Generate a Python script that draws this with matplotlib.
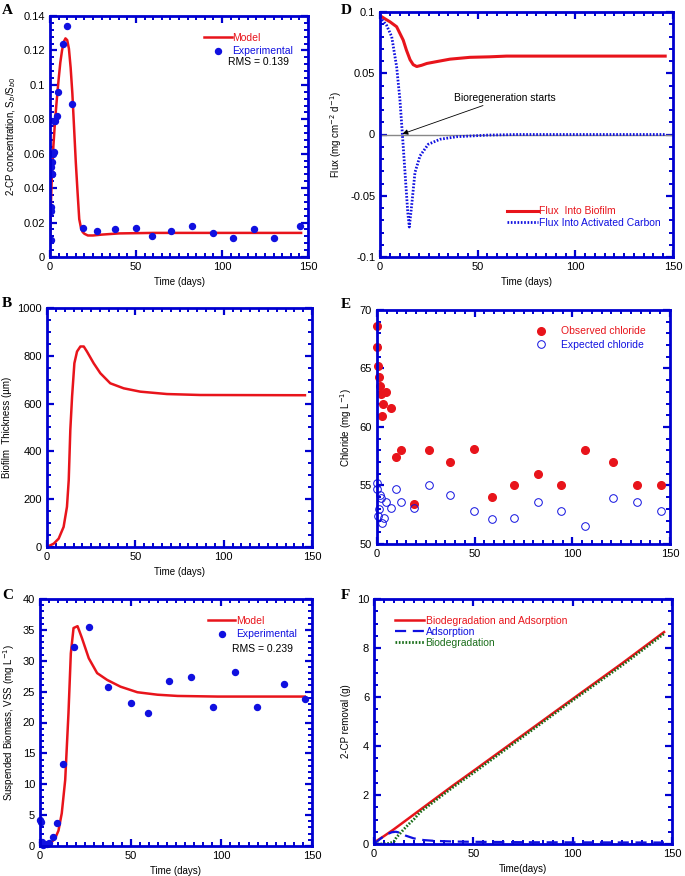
import matplotlib
matplotlib.use('Agg')
import matplotlib.pyplot as plt
import numpy as np
from matplotlib.ticker import MultipleLocator, FuncFormatter

plt.rcParams['font.family'] = ['Liberation Sans', 'DejaVu Sans']

BLUE = '#0000d0'
RED = '#e8141b'
PBLUE = '#1010e0'
GREEN = '#1a6e1a'

# ---- panel A : 2-CP concentration
a_model_t = [0, 0.5, 1, 2, 3, 4, 5, 6, 7, 8, 9, 10, 11, 12, 13, 14, 15, 16, 17, 18, 19, 20, 22, 25, 30, 40, 60, 100, 146]
a_model_y = [0.008, 0.03, 0.045, 0.065, 0.08, 0.092, 0.103, 0.113, 0.12, 0.125, 0.127, 0.126, 0.121, 0.11, 0.095, 0.075,
             0.055, 0.038, 0.022, 0.017, 0.0145, 0.0135, 0.0125, 0.0125, 0.013, 0.0137, 0.014, 0.014, 0.014]
a_exp_t = [0.3, 0.5, 0.6, 0.8, 1.0, 1.2, 1.4, 1.8, 2.2, 2.6, 2.9, 3.9, 4.8, 7.4, 9.9, 13, 19, 27.3, 37.5, 50.1, 59.2,
           70.6, 82.8, 94.8, 106.6, 118.6, 130.3, 145.3]
a_exp_y = [0.01, 0.027, 0.029, 0.052, 0.055, 0.048, 0.048, 0.06, 0.061, 0.079, 0.079, 0.082, 0.096, 0.124, 0.134, 0.089,
           0.017, 0.015, 0.016, 0.017, 0.012, 0.015, 0.018, 0.014, 0.011, 0.016, 0.011, 0.018]

# ---- panel B : biofilm thickness
b_t = [0, 1, 3.8, 6.6, 9.4, 11.3, 12.3, 13.2, 14.2, 15.5, 17, 18.9, 20.8, 22.6, 26.4, 30.2, 35.8, 43.4, 52.8, 67.9, 86.8, 146]
b_y = [0, 4, 14, 35, 84, 168, 280, 490, 630, 769, 818, 839, 839, 818, 769, 727, 685, 664, 650, 640, 636, 635]

# ---- panel C : suspended biomass
c_model_t = [0, 3.7, 5.6, 8.3, 10.2, 12, 13.9, 15.7, 17, 18.5, 20.7, 23.1, 26.9, 31.5, 37, 44.4, 53.7, 64.8, 75.9, 98, 146]
c_model_y = [0, 0, 0.4, 1.2, 2.5, 5.3, 10.7, 21.5, 31.2, 35.3, 35.6, 33.7, 30.4, 28, 26.9, 25.8, 24.9, 24.5, 24.3, 24.2, 24.2]
c_exp_t = [0, 0.7, 0.9, 1.8, 3.7, 5, 7, 9.6, 12.5, 18.6, 27.2, 37.3, 50.4, 59.6, 71.3, 83.3, 95.4, 107.4, 119.4, 134.6, 146.3]
c_exp_y = [4.2, 3.9, 0.7, 0.2, 0.4, 0.5, 1.5, 3.8, 13.2, 32.3, 35.4, 25.8, 23.2, 21.6, 26.7, 27.4, 22.5, 28.1, 22.5, 26.3, 23.8]

# ---- panel D : flux
d_bio_t = [0, 3, 5.1, 8.5, 11.9, 13.5, 15.4, 17, 18.8, 21.3, 24, 29, 35.8, 46, 56, 64.8, 100, 146]
d_bio_y = [0.097, 0.094, 0.092, 0.088, 0.077, 0.069, 0.061, 0.057, 0.0555, 0.0565, 0.058, 0.0595, 0.0615, 0.063, 0.0634, 0.064, 0.064, 0.064]
d_gac_t = [0, 3.4, 6, 8.5, 10.2, 11.4, 12.8, 14.2, 15, 16.2, 17.9, 20.5, 24.7, 30.7, 39.3, 55, 70, 100, 146]
d_gac_y = [0.096, 0.089, 0.0798, 0.0555, 0.0285, 0.0015, -0.031, -0.0633, -0.0755, -0.058, -0.031, -0.0174, -0.008,
           -0.0039, -0.0018, -0.0005, 0, 0, 0]

# ---- panel E : chloride
e_obs_t = [0, 0, 0.5, 1, 1.7, 2, 4.8, 3.1, 2.6, 7.2, 9.5, 12.4, 18.7, 26.8, 37.5, 49.8, 58.8, 70.2, 82.3, 94.3, 106.4, 121, 133.3, 145.2]
e_obs_y = [68.6, 66.8, 65.2, 64.3, 63.5, 62.8, 63.0, 62.0, 60.9, 61.6, 57.4, 58.0, 53.4, 58.0, 57.0, 58.1, 54.0, 55.0, 56.0, 55.0, 58.0, 57.0, 55.0, 55.0]
e_exp_t = [0, 0, 0.5, 1, 1.7, 2, 2.6, 3.4, 4.8, 7.2, 9.5, 12.4, 18.7, 26.8, 37.5, 49.8, 58.8, 70.2, 82.3, 94.3, 106.4, 121, 133.3, 145.2]
e_exp_y = [55.2, 54.7, 52.4, 53.0, 54.2, 53.9, 51.8, 52.2, 53.6, 53.1, 54.7, 53.6, 53.1, 55.0, 54.2, 52.8, 52.1, 52.2, 53.6, 52.8, 51.5, 53.9, 53.6, 52.8]

# ---- panel F : cumulative removal
f_tot_t = [0, 5, 10, 15, 20, 30, 40, 50, 75, 100, 125, 146]
f_tot_y = [0.06, 0.32, 0.6, 0.9, 1.2, 1.8, 2.4, 2.98, 4.45, 5.92, 7.38, 8.65]
f_ads_t = [0, 3, 6, 9, 11, 13, 16, 20, 25, 30, 40, 50, 80, 146]
f_ads_y = [0, 0.2, 0.38, 0.48, 0.5, 0.46, 0.34, 0.23, 0.16, 0.13, 0.1, 0.09, 0.07, 0.06]
f_bio_t = [0, 5, 8, 10, 11.3, 13, 15, 18, 20, 23.2, 30, 40, 50, 75, 100, 125, 146]
f_bio_y = [0, 0, 0.03, 0.1, 0.27, 0.42, 0.6, 0.85, 1.0, 1.3, 1.72, 2.33, 2.9, 4.38, 5.86, 7.3, 8.58]

W, H = 685, 876
fig = plt.figure(figsize=(W / 100, H / 100), dpi=100)


def make_ax(l, t, r, b):
    ax = fig.add_axes([l / W, 1 - b / H, (r - l) / W, (b - t) / H])
    for s in ax.spines.values():
        s.set_color(BLUE)
        s.set_linewidth(2.0)
    ax.tick_params(which='both', direction='in', top=True, right=True, color=BLUE, labelsize=8)
    ax.tick_params(which='major', length=5, width=1.6)
    ax.tick_params(which='minor', length=3, width=1.4)
    ax.set_xlim(0, 150)
    ax.xaxis.set_major_locator(MultipleLocator(50))
    ax.xaxis.set_minor_locator(MultipleLocator(5))
    ax.yaxis.set_major_formatter(FuncFormatter(lambda v, p: '%g' % round(v, 6)))
    return ax


def panel_label(x, y, s):
    fig.text(x / W, 1 - y / H, s, family='Liberation Serif', weight='bold', fontsize=11, va='top', ha='left')


# A
ax = make_ax(50, 16, 308, 257)
ax.plot(a_model_t, a_model_y, color=RED, lw=1.8, label='Model')
ax.plot(a_exp_t, a_exp_y, 'o', color=PBLUE, ms=4.3, label='Experimental')
ax.set_ylim(0, 0.14)
ax.yaxis.set_major_locator(MultipleLocator(0.02))
ax.yaxis.set_minor_locator(MultipleLocator(0.004))
ax.set_xlabel('Time (days)', fontsize=7)
ax.set_ylabel('2-CP concentration, S$_b$/S$_{b0}$', fontsize=7)
ax.legend(loc='upper right', bbox_to_anchor=(0.98, 0.97), frameon=False, fontsize=7.5, handlelength=2.6,
          handletextpad=0.1, labelspacing=0.35, labelcolor='linecolor')
ax.text(0.69, 0.795, 'RMS = 0.139', transform=ax.transAxes, fontsize=7.5)
panel_label(2, 4, 'A')

# D
ax = make_ax(380, 12, 673, 257)
ax.axhline(0, color='#888888', lw=1)
ax.plot(d_bio_t, d_bio_y, color=RED, lw=2.2, label='Flux  Into Biofilm')
ax.plot(d_gac_t, d_gac_y, color=PBLUE, lw=2.0, ls=(0, (0.6, 0.6)), label='Flux Into Activated Carbon')
ax.set_ylim(-0.1, 0.1)
ax.yaxis.set_major_locator(MultipleLocator(0.05))
ax.yaxis.set_minor_locator(MultipleLocator(0.01))
ax.set_xlabel('Time (days)', fontsize=7)
ax.set_ylabel('Flux (mg cm$^{-2}$ d$^{-1}$)', fontsize=7)
ax.annotate('Bioregeneration starts', xy=(11.5, 0.0005), xytext=(38, 0.03), fontsize=7.5, va='center',
            arrowprops=dict(arrowstyle='-|>', color='black', lw=0.6, shrinkA=0, shrinkB=0, mutation_scale=8))
ax.legend(loc='lower right', bbox_to_anchor=(0.99, 0.08), frameon=False, fontsize=7.5, handlelength=3,
          handletextpad=0.1, labelspacing=0.15, labelcolor='linecolor')
panel_label(341, 4, 'D')

# B
ax = make_ax(47, 308, 312, 547)
ax.plot(b_t, b_y, color=RED, lw=1.8)
ax.set_ylim(0, 1000)
ax.yaxis.set_major_locator(MultipleLocator(200))
ax.yaxis.set_minor_locator(MultipleLocator(50))
ax.set_xlabel('Time (days)', fontsize=7)
ax.set_ylabel('Biofilm  Thickness (µm)', fontsize=7)
panel_label(2, 297, 'B')

# E
ax = make_ax(377, 310, 670, 544)
ax.plot(e_obs_t, e_obs_y, 'o', color=RED, ms=5.5, label='Observed chloride', clip_on=False)
ax.plot(e_exp_t, e_exp_y, 'o', mfc='none', mec=PBLUE, mew=0.7, ms=5.5, label='Expected chloride', clip_on=False)
ax.set_ylim(50, 70)
ax.yaxis.set_major_locator(MultipleLocator(5))
ax.yaxis.set_minor_locator(MultipleLocator(1))
ax.set_ylabel('Chloride (mg L$^{-1}$)', fontsize=7)
leg = ax.legend(loc='upper right', bbox_to_anchor=(0.95, 0.97), frameon=False, fontsize=7.5, handletextpad=0.9,
                labelspacing=0.35)
for txt, c in zip(leg.get_texts(), [RED, PBLUE]):
    txt.set_color(c)
panel_label(341, 298, 'E')

# C
ax = make_ax(40, 599, 312, 846)
ax.plot(c_model_t, c_model_y, color=RED, lw=1.8, label='Model')
ax.plot(c_exp_t, c_exp_y, 'o', color=PBLUE, ms=4.3, label='Experimental', clip_on=False)
ax.set_ylim(0, 40)
ax.yaxis.set_major_locator(MultipleLocator(5))
ax.yaxis.set_minor_locator(MultipleLocator(1))
ax.set_xlabel('Time (days)', fontsize=7)
ax.set_ylabel('Suspended Biomass, VSS (mg L$^{-1}$)', fontsize=7)
ax.legend(loc='upper right', bbox_to_anchor=(0.98, 0.97), frameon=False, fontsize=7.5, handlelength=2.6,
          handletextpad=0.1, labelspacing=0.35, labelcolor='linecolor')
ax.text(0.706, 0.785, 'RMS = 0.239', transform=ax.transAxes, fontsize=7.5)
panel_label(2, 589, 'C')

# F
ax = make_ax(374, 599, 672, 844)
ax.plot(f_tot_t, f_tot_y, color=RED, lw=1.8, label='Biodegradation and Adsorption')
ax.plot(f_ads_t, f_ads_y, color=PBLUE, lw=1.6, ls=(0, (5, 3)), label='Adsorption')
ax.plot(f_bio_t, f_bio_y, color=GREEN, lw=2.0, ls=(0, (0.6, 0.6)), label='Biodegradation')
ax.set_ylim(0, 10)
ax.yaxis.set_major_locator(MultipleLocator(2))
ax.yaxis.set_minor_locator(MultipleLocator(0.5))
ax.set_xlabel('Time(days)', fontsize=7)
ax.set_ylabel('2-CP removal (g)', fontsize=7)
ax.legend(loc='upper left', bbox_to_anchor=(0.04, 0.97), frameon=False, fontsize=7.5, handlelength=2.8,
          handletextpad=0.1, labelspacing=0.1, labelcolor='linecolor')
panel_label(341, 589, 'F')

fig.savefig('out.png', dpi=100)
